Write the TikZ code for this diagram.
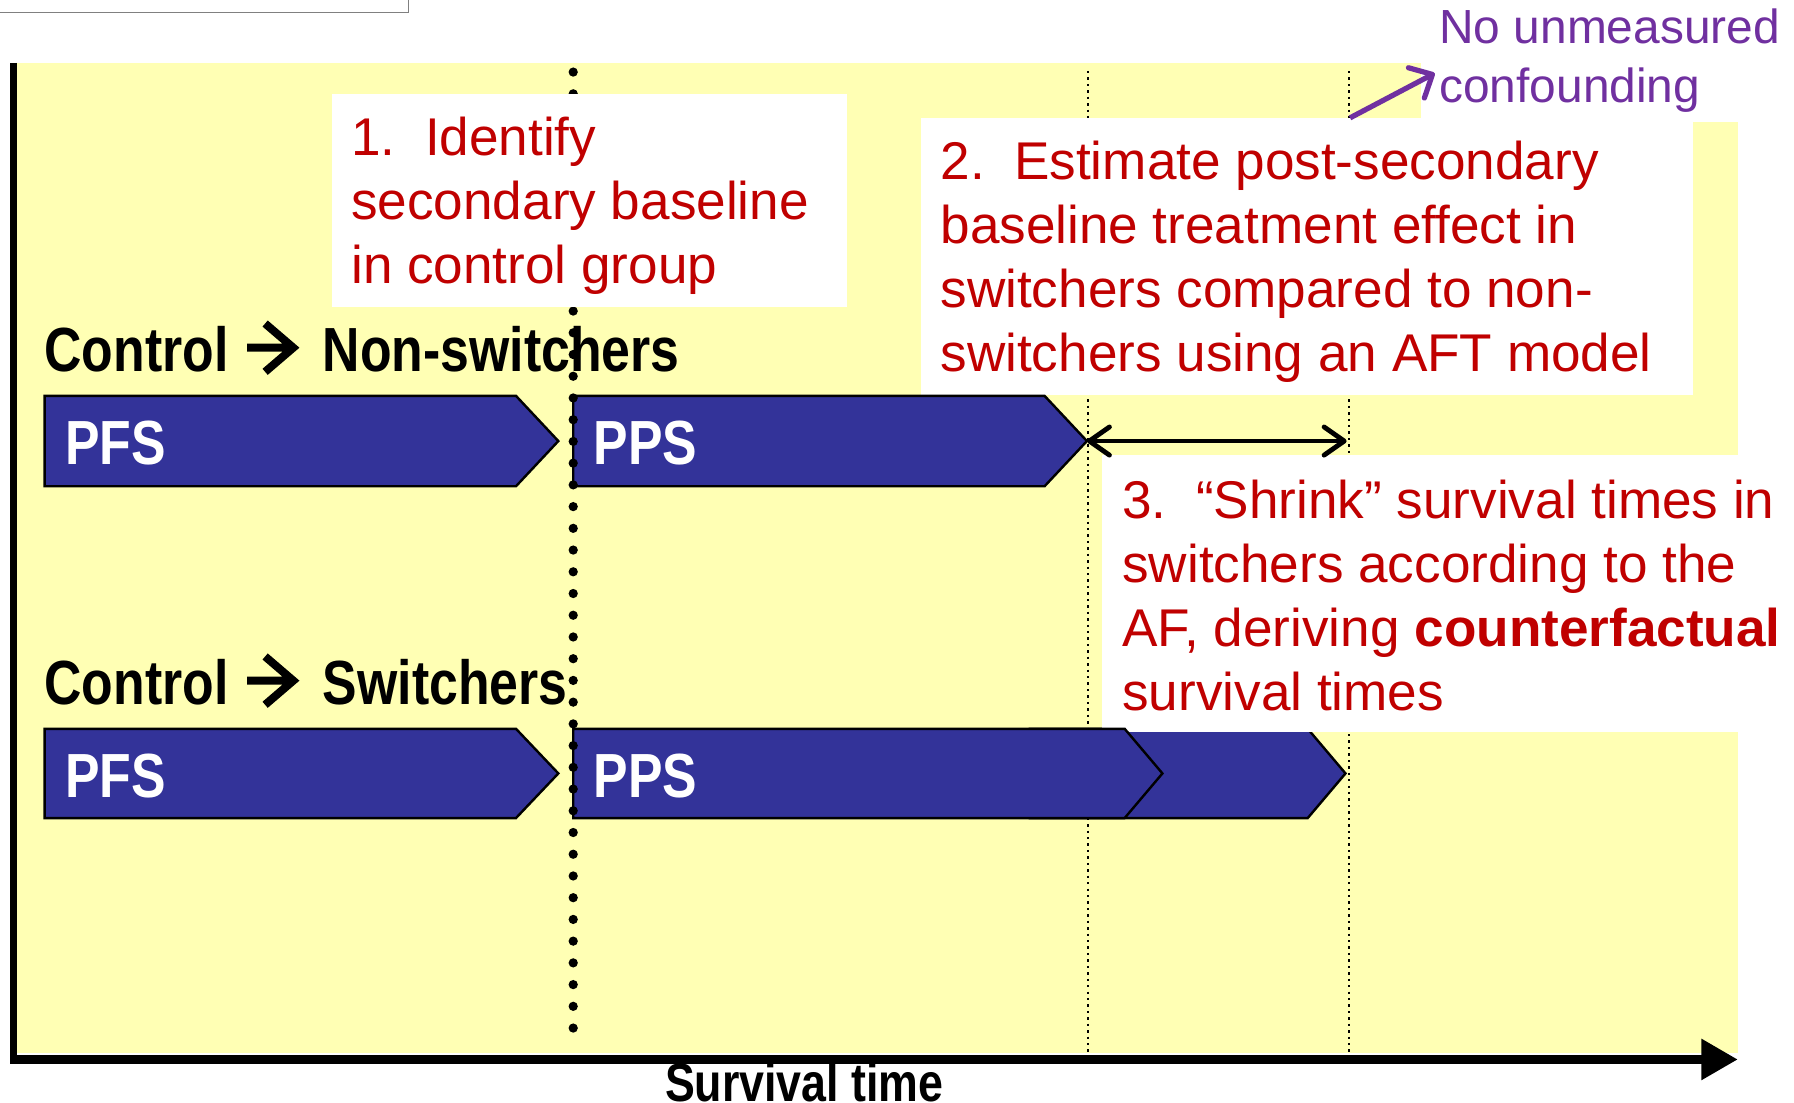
\documentclass[tikz,border=0pt]{standalone}
\usepackage{fontspec}
\setmainfont{Liberation Sans}
\newfontfamily\narrowfont{Liberation Sans}[FakeStretch=0.83]
\usetikzlibrary{arrows.meta}

\definecolor{barblue}{RGB}{51,51,153}
\definecolor{notered}{RGB}{192,0,0}
\definecolor{notepurple}{RGB}{112,48,160}
\definecolor{paleyellow}{RGB}{255,255,180}

% the heavy arrow of the group headings
\newcommand{\bigto}{\tikz[baseline=0pt]{\draw[line width=2pt, miter limit=10] (0pt,6pt) -- (11.5pt,6pt) (4.5pt,12pt) -- (11.5pt,6pt) -- (4.5pt,0pt);}\hspace{2.8pt}}

\begin{document}
\begin{tikzpicture}[x=0.01cm, y=-0.01cm,
      every node/.append style={inner sep=0pt, outer sep=0pt},
      note/.style={anchor=base west, align=left, text=notered, font=\fontsize{13.2}{15.9}\selectfont},
      heading/.style={anchor=base west, font=\narrowfont\bfseries\fontsize{15.5}{18}\selectfont},
      barname/.style={anchor=base west, text=white, font=\narrowfont\bfseries\fontsize{15.5}{18}\selectfont},
      chevron/.style={fill=barblue, draw=black, line width=0.6pt},
      guide/.style={line width=0.4pt, dash pattern=on 0.6pt off 1pt}]
    \useasboundingbox (0,0) rectangle (1568,964);
    \draw[gray, line width=0.45pt, fill=white] (-10,-10) rectangle (357,11);
    \fill[paleyellow] (12,55) rectangle (1519,920);

    % time points of the two groups
    \coordinate (nsend) at (950,385.5);
    \coordinate (swend) at (1177,385.5);
    \draw[guide] (951,62) -- (951,920);
    \draw[guide] (1179,62) -- (1179,920);

    \fill[white] (805,103) rectangle (1480,345);
    \fill[white] (1242,0) rectangle (1568,107);

    \node (nonsw) [heading] at (39,325) {Control \bigto{} Non-switchers};
    \node (sw) [heading] at (39,616) {Control \bigto{} Switchers};

    \draw[chevron] (39,346) -- (451,346) -- (488,385.5) -- (451,425) -- (39,425) -- cycle;
    \draw[chevron] (501,346) -- (913,346) -- (950,385.5) -- (913,425) -- (501,425) -- cycle;
    \draw[chevron] (39,637) -- (451,637) -- (488,676) -- (451,715) -- (39,715) -- cycle;
    \draw[chevron] (900,637) -- (1143,637) -- (1176,676) -- (1143,715) -- (900,715) -- cycle;
    \fill[white] (963,398) rectangle (1568,640);
    \draw[chevron] (501,637) -- (983,637) -- (1016,676) -- (983,715) -- (501,715) -- cycle;

    \node (pfsA) [barname] at (57,406) {PFS};
    \node (ppsA) [barname] at (519,406) {PPS};
    \node (pfsB) [barname] at (57,697) {PFS};
    \node (ppsB) [barname] at (519,697) {PPS};

    % secondary baseline
    \draw[line width=2.3pt, line cap=round, dash pattern=on 0pt off 5.4pt] (501,63) -- (501,903);

    \fill[white] (290,82) rectangle (740,268);
    \node (step1) [note] at (307,248) {1.\ \ Identify\\secondary baseline\\in control group};
    \node (step2) [note] at (822,325) {2.\ \ Estimate post-secondary\\baseline treatment effect in\\switchers compared to non-\\switchers using an AFT model};
    \node (step3) [note] at (981,621) {3.\ \ “Shrink” survival times in\\switchers according to the\\AF, deriving \textbf{counterfactual}\\survival times};
    \node (nuc) [anchor=base west, align=left, text=notepurple, font=\fontsize{11.9}{14.8}\selectfont] at (1258,90) {No unmeasured\\confounding};

    \coordinate (nucfrom) at (1180,103);
    \coordinate (nucto) at (1254,64);
    \draw[notepurple, line width=1.3pt, -{Straight Barb[round, length=4.5pt, width=8.5pt]}] (nucfrom) -- (nucto);
    \draw[line width=1.2pt, {Straight Barb[round, length=5pt, width=7pt]}-{Straight Barb[round, length=5pt, width=7pt]}] (nsend) -- (swend);

    % axes
    \draw[line width=1.7pt] (12,55) -- (12,930);
    \draw[line width=2.3pt, -{Triangle[length=0.32cm, width=0.34cm]}] (9,926) -- (1519,926);
    \node (xlab) [anchor=base, font=\narrowfont\bfseries\fontsize{13.4}{16}\selectfont] at (703,963) {Survival time};
\end{tikzpicture}
\end{document}
